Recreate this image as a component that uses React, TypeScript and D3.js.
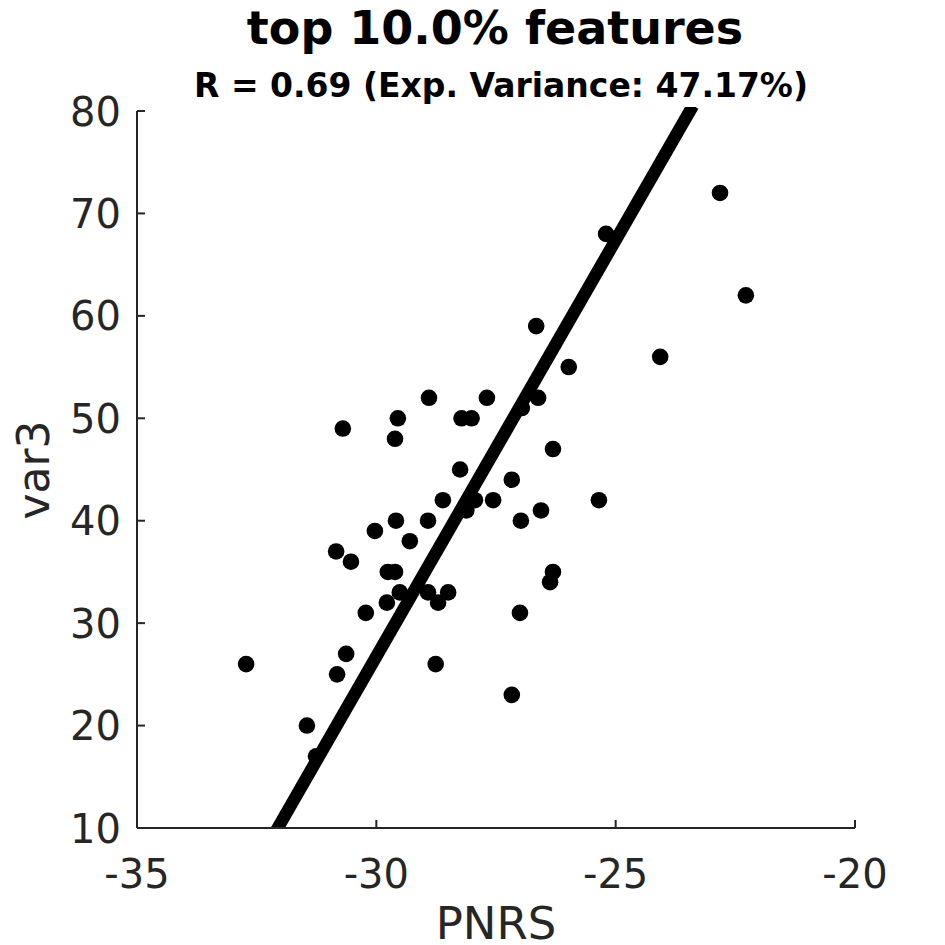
import React from "react";
import * as d3 from "d3";

const pnrs = [
  -32.72, -31.45, -31.26, -30.82, -30.63, -30.84, -30.70, -30.53, -30.22, -30.03,
  -29.78, -29.76, -29.61, -29.59, -29.61, -29.55, -29.51, -29.30, -28.92, -28.92,
  -28.90, -28.76, -28.71, -28.61, -28.50, -28.25, -28.22, -28.01, -28.12, -27.94,
  -27.69, -27.56, -27.17, -27.17, -27.00, -26.98, -26.96, -26.66, -26.62, -26.56,
  -26.37, -26.31, -26.31, -25.98, -25.35, -25.20, -24.07, -22.82, -22.28,
];
const var3 = [
  26, 20, 17, 25, 27, 37, 49, 36, 31, 39,
  32, 35, 35, 40, 48, 50, 33, 38, 33, 40,
  52, 26, 32, 42, 33, 45, 50, 50, 41, 42,
  52, 42, 44, 23, 31, 40, 51, 59, 52, 41,
  34, 35, 47, 55, 42, 68, 56, 72, 62,
];
const fitX = [-32.06, -23.45];
const fitY = [10, 80];
const xTicks = [-35, -30, -25, -20];
const yTicks = [10, 20, 30, 40, 50, 60, 70, 80];

const titleText = "top 10.0% features";
const subtitleText = "R = 0.69 (Exp. Variance: 47.17%)";
const xLabel = "PNRS";
const yLabel = "var3";

export default function App() {
  const W = 945, H = 945;
  const left = 137, right = 855, top = 111, bottom = 828;
  const x = d3.scaleLinear().domain([-35, -20]).range([left, right]);
  const y = d3.scaleLinear().domain([10, 80]).range([bottom, top]);
  const axisColor = "#262626";
  const font = "DejaVu Sans";
  const pts = pnrs.map((v, i) => ({ x: v, y: var3[i] }));
  const line = d3.line<number>().x((_, i) => x(fitX[i])).y((_, i) => y(fitY[i]));
  return (
    <svg width={W} height={H} style={{ position: "absolute", left: 0, top: 0 }}>
      <rect width={W} height={H} fill="#fff" />
      <defs>
        <clipPath id="plotclip">
          <rect x={left - 20} y={top - 4} width={right - left + 40} height={bottom - top + 4} />
        </clipPath>
      </defs>
      {pts.map((p, i) => (
        <circle key={i} cx={x(p.x)} cy={y(p.y)} r={8.3} fill="#000" />
      ))}
      <path d={line([0, 1]) || ""} stroke="#000" strokeWidth={12.5} fill="none" strokeLinecap="square" clipPath="url(#plotclip)" />
      <line x1={left} x2={right} y1={bottom} y2={bottom} stroke={axisColor} strokeWidth={2} />
      <line x1={left} x2={left} y1={top} y2={bottom} stroke={axisColor} strokeWidth={2} />
      {xTicks.map((t) => (
        <g key={t}>
          <line x1={x(t)} x2={x(t)} y1={bottom} y2={bottom - 8} stroke={axisColor} strokeWidth={2} />
          <text x={x(t)} y={888} textAnchor="middle" fontFamily={font} fontSize={40} fill={axisColor}>
            {t}
          </text>
        </g>
      ))}
      {yTicks.map((t) => (
        <g key={t}>
          <line x1={left} x2={left + 8} y1={y(t)} y2={y(t)} stroke={axisColor} strokeWidth={2} />
          <text x={121} y={y(t) + 14.5} textAnchor="end" fontFamily={font} fontSize={40} fill={axisColor}>
            {t}
          </text>
        </g>
      ))}
      <text x={496} y={939} textAnchor="middle" fontFamily={font} fontSize={45} fill={axisColor}>
        {xLabel}
      </text>
      <text transform={`translate(49,470) rotate(-90)`} textAnchor="middle" fontFamily={font} fontSize={44} fill={axisColor}>
        {yLabel}
      </text>
      <text x={495} y={44} textAnchor="middle" fontFamily={font} fontWeight="bold" fontSize={46} fill="#000">
        {titleText}
      </text>
      <text x={501} y={97} textAnchor="middle" fontFamily={font} fontWeight="bold" fontSize={33} fill="#000">
        {subtitleText}
      </text>
    </svg>
  );
}
